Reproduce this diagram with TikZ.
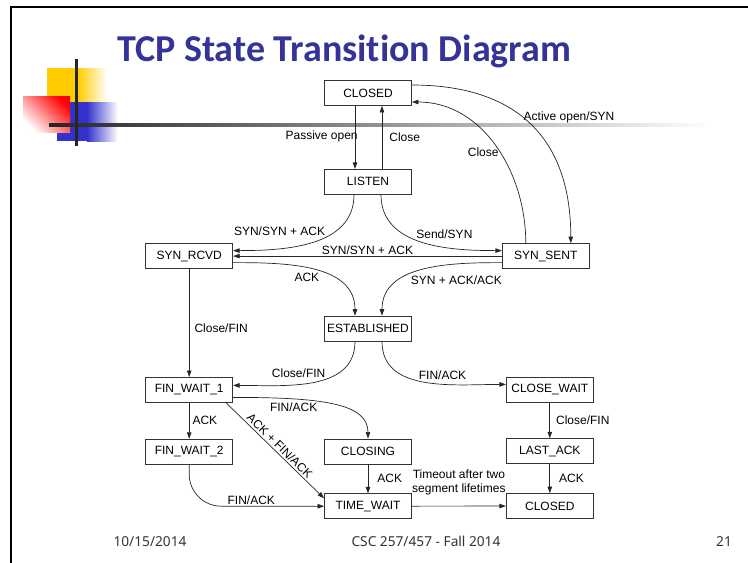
\documentclass[tikz,border=0pt]{standalone}
\usepackage{fontspec}
\setmainfont{Liberation Sans}
\newfontfamily\titlefont{Carlito}[Ligatures=NoCommon]
\newfontfamily\footfont{Noto Sans}
\usepackage{xcolor}
\usepackage{tikz}
\usetikzlibrary{arrows.meta, positioning}
\definecolor{titleblue}{RGB}{51,51,153}
\definecolor{decoyellow}{RGB}{255,204,0}
\definecolor{decoblue}{RGB}{51,51,204}
\definecolor{decored}{RGB}{255,0,0}
\definecolor{footgray}{RGB}{51,51,51}
\tikzstyle{state} = [rectangle, minimum width=87pt, minimum height=25pt, inner sep=0pt, text centered, draw=black!80, line width=0.8pt, font=\fontsize{12}{14.4}\selectfont]
\tikzstyle{arrow} = [->, >={Triangle[length=6.5pt,width=4.5pt]}, draw=black!85, line width=0.7pt]
\tikzstyle{lbl} = [font=\fontsize{12}{14.4}\selectfont, inner sep=1pt, text=black]
\tikzstyle{foot} = [font=\footfont\fontsize{13.7}{16}\selectfont, text=footgray, anchor=base]

\begin{document}
\begin{tikzpicture}[x=1pt, y=-1pt, node distance=40pt]
    \useasboundingbox (0,0) rectangle (748,563);
    \fill[decoyellow] (47,68) rectangle (78,110);
    \shade[left color=decoyellow, right color=white] (78,68) rectangle (107,110);
    \fill[decoblue] (57,102) rectangle (87,141);
    \shade[left color=decoblue, right color=white] (87,102) rectangle (118,141);
    \shade[top color=decored, bottom color=white, shading angle=-45] (23,96) rectangle (70,132);
    \shade[left color=black!85, right color=white] (49,123.5) rectangle (712,126.5);
    \fill[black!85] (75,59) rectangle (78,146);
    \draw[line width=2.5pt] (11,563) -- (11,7) -- (748,7);
    \node (title) [anchor=base west, text=titleblue, inner sep=0pt, font=\titlefont\bfseries\fontsize{38}{40}\selectfont] at (117,61) {TCP State Transition Diagram};

    \node (closed) [state] at (368,93) {CLOSED};
    \node (listen) [state, below=63pt of closed] {LISTEN};
    \node (synrcvd) [state, below left=48.5pt and 91pt of listen] {SYN\_RCVD};
    \node (synsent) [state, below right=48.5pt and 90pt of listen] {SYN\_SENT};
    \node (estab) [state, below=121pt of listen] {ESTABLISHED};
    \node (finwait1) [state, below=108pt of synrcvd] {FIN\_WAIT\_1};
    \node (finwait2) [state, below=36pt of finwait1] {FIN\_WAIT\_2};
    \node (closing) [state, below=97pt of estab] {CLOSING};
    \node (timewait) [state, below=29pt of closing] {TIME\_WAIT};
    \node (closewait) [state, below right=35pt and 94pt of estab] {CLOSE\_WAIT};
    \node (lastack) [state, below=36pt of closewait] {LAST\_ACK};
    \node (closedend) [state, below=29pt of lastack] {CLOSED};

    \draw [arrow] ([xshift=-13pt]closed.south) -- node[lbl, pos=0.48, left=-4pt] {Passive open} ([xshift=-13pt]listen.north);
    \draw [arrow] ([xshift=14pt]listen.north) -- node[lbl, pos=0.5, right=6pt] {Close} ([xshift=14pt]closed.south);
    \draw [arrow] ([xshift=-20pt]synsent.north) to[out=90, in=0] node[lbl, pos=0.46, left] {Close} ([yshift=-9pt]closed.east);
    \draw [arrow] ([yshift=8pt]closed.east) to[out=0, in=90, looseness=1.2] node[lbl, pos=0.45, right] {Active open/SYN} ([xshift=25pt]synsent.north);
    \draw [arrow] ([xshift=-14pt]listen.south) to[out=-90, in=0] node[lbl, pos=0.4, above left] {SYN/SYN + ACK} ([yshift=5.5pt]synrcvd.east);
    \draw [arrow] (synsent) -- node[lbl, midway, above] {SYN/SYN + ACK} (synrcvd);
    \draw [arrow] ([xshift=13pt]listen.south) to[out=-90, in=180] node[lbl, pos=0.45, above right] {Send/SYN} ([yshift=5.5pt]synsent.west);
    \draw [arrow] ([yshift=-6.5pt]synrcvd.east) to[out=0, in=90] node[lbl, pos=0.55, below left] {ACK} ([xshift=-13pt]estab.north);
    \draw [arrow] ([yshift=-6.5pt]synsent.west) to[out=180, in=90] node[lbl, pos=0.6, below right] {SYN + ACK/ACK} ([xshift=14pt]estab.north);
    \draw [arrow] (synrcvd) -- node[lbl, pos=0.55, right=4pt] {Close/FIN} (finwait1);
    \draw [arrow] ([xshift=-13pt]estab.south) to[out=-90, in=0] node[lbl, pos=0.4, above left] {Close/FIN} ([yshift=4.5pt]finwait1.east);
    \draw [arrow] ([xshift=14pt]estab.south) to[out=-90, in=180] node[lbl, pos=0.45, above right] {FIN/ACK} ([yshift=5pt]closewait.west);
    \draw [arrow] ([yshift=-7.5pt]finwait1.east) to[out=0, in=90, out looseness=1.6, in looseness=0.64] node[lbl, pos=0.4, below left] {FIN/ACK} (closing.north);
    \draw [arrow] (finwait1) -- node[lbl, midway, right=2pt] {ACK} (finwait2);
    \draw [arrow] ([xshift=-7pt]finwait1.south east) -- node[lbl, midway, above=1pt, sloped] {ACK + FIN/ACK} ([yshift=-5pt]timewait.north west);
    \draw [arrow, rounded corners=32pt] (finwait2.south) |- node[lbl, pos=0.73, above] {FIN/ACK} (timewait.west);
    \draw [arrow] (closing) -- node[lbl, midway, right=8pt] {ACK} (timewait);
    \draw [arrow] (closewait) -- node[lbl, midway, right=5pt] {Close/FIN} (lastack);
    \draw [arrow] (lastack) -- node[lbl, midway, right=8pt] {ACK} (closedend);
    \draw [arrow] (timewait) -- node[lbl, midway, above=9.5pt, align=center] {Timeout after two\\segment lifetimes} (closedend);

    \node (date) [foot] at (150,546) {10/15/2014};
    \node (course) [foot] at (426,546) {CSC 257/457 - Fall 2014};
    \node (page) [foot] at (724,546) {21};
\end{tikzpicture}
\end{document}
